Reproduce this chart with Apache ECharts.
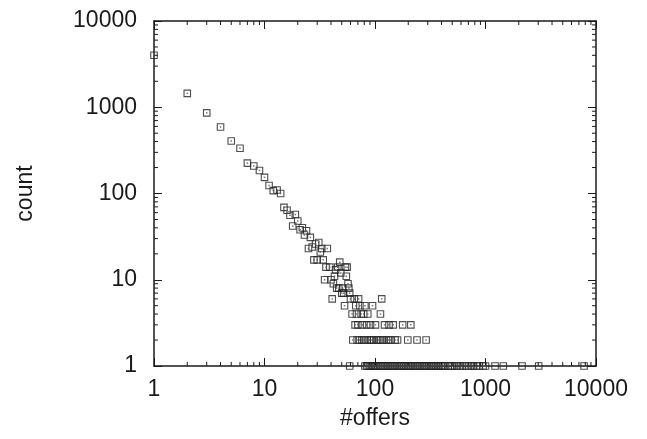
<!DOCTYPE html>
<html>
<head>
<meta charset="utf-8">
<script src="https://cdn.jsdelivr.net/npm/echarts@6/dist/echarts.min.js"></script>
<style>
html,body{margin:0;padding:0;background:#fff;}
#chart{width:647px;height:439px;}
</style>
</head>
<body>
<div id="chart"></div>
<script>
// ---- data ----
const offersHead = [1,2,3,4,5,6,7,8,9,10,11,12,13,14,15,16,17,18,19,20,21,22,23,24,25,26,27,28,29,30,31,32,33,34,35,36,37,39,40,41,42,43,44,45,46,47,48,49,50,51,52,53,54,55,56,57,58,59,60];
const countsHead = [4000,1450,860,590,406,335,225,208,185,154,124,108,110,100,69,64,56,42,57,48,38,40,33,37,23,31,24,17,26,17,27,21,23,17,10,14,23,14,10,6,9,11,13,8,14,8,16,12,7,8,7,5,14,11,14,9,8,7,6];

const offers6 = [65,71,115];
const offers5 = [67,73,81,95];
const offers4 = [62,68,75,79,86,112];
const offers3 = [66,70,77,84,91,101,122,134,146,178,211];
const offers2 = [63,69,72,76,80,85,89,93,97,104,108,113,118,127,133,139,152,160,198,240,290];
const offers1 = [59,81,84,87,90,93,96,99,102,106,110,114,118,122,127,132,137,142,147,153,159,165,171,177,184,191,198,205,213,221,229,238,247,256,266,276,286,297,308,320,332,344,357,370,384,398,413,428,460,480,500,525,555,590,620,660,700,740,780,830,880,950,1000,1220,1450,2140,3030,7800];

const axisTickLabels = ['1','10','100','1000','10000'];
const minorTickValues = [2,3,4,5,6,7,8,9,20,30,40,50,60,70,80,90,200,300,400,500,600,700,800,900,2000,3000,4000,5000,6000,7000,8000,9000];

// ---- build point list ----
const points = [];
offersHead.forEach((x,i)=>points.push([x,countsHead[i]]));
offers6.forEach(x=>points.push([x,6]));
offers5.forEach(x=>points.push([x,5]));
offers4.forEach(x=>points.push([x,4]));
offers3.forEach(x=>points.push([x,3]));
offers2.forEach(x=>points.push([x,2]));
offers1.forEach(x=>points.push([x,1]));

const FONT = "'Liberation Sans', Arial, Helvetica, sans-serif";
const INK = '#1a1a1a';

const chart = echarts.init(document.getElementById('chart'), null, {renderer:'canvas'});

function logAxisBase(extra){
  return Object.assign({
    type:'log', logBase:10, min:1, max:10000,
    axisLine:{show:true, lineStyle:{color:INK, width:1.5}},
    axisTick:{show:true, inside:true, length:8, lineStyle:{color:INK, width:1}},
    minorTick:{show:false},
    splitLine:{show:false},
  }, extra);
}
const fmt = v => { const r = Math.round(v); const s = String(r); return axisTickLabels.includes(s) ? s : ''; };

// minor tick marks drawn through the axes' own scales
const minorData = minorTickValues.map(v=>[v]);
function minorRender(params, api){
  const v = api.value(0);
  const pB = api.coord([v, 1]);
  const pT = api.coord([v, 10000]);
  const pL = api.coord([1, v]);
  const pR = api.coord([10000, v]);
  const L = 4;
  const st = {stroke:INK, lineWidth:1};
  return {type:'group', children:[
    {type:'line', shape:{x1:pB[0],y1:pB[1],x2:pB[0],y2:pB[1]-L}, style:st},
    {type:'line', shape:{x1:pT[0],y1:pT[1],x2:pT[0],y2:pT[1]+L}, style:st},
    {type:'line', shape:{x1:pL[0],y1:pL[1],x2:pL[0]+L,y2:pL[1]}, style:st},
    {type:'line', shape:{x1:pR[0],y1:pR[1],x2:pR[0]-L,y2:pR[1]}, style:st}
  ]};
}

chart.setOption({
  animation:false,
  backgroundColor:'#fff',
  grid:{left:154, top:21, right:51, bottom:73, containLabel:false},
  xAxis:[
    logAxisBase({position:'bottom', name:'#offers', nameLocation:'middle', nameGap:41,
      nameTextStyle:{fontFamily:FONT, fontSize:23, color:INK},
      axisLabel:{show:true, margin:12, fontFamily:FONT, fontSize:23, color:INK, formatter:fmt}}),
    logAxisBase({position:'top', axisLabel:{show:false}})
  ],
  yAxis:[
    logAxisBase({position:'left', name:'count', nameLocation:'middle', nameGap:117, nameRotate:90,
      nameTextStyle:{fontFamily:FONT, fontSize:23, color:INK},
      axisLabel:{show:true, margin:17, fontFamily:FONT, fontSize:23, color:INK, formatter:fmt}}),
    logAxisBase({position:'right', axisLabel:{show:false}})
  ],
  series:[
    {type:'custom', xAxisIndex:0, yAxisIndex:0, data:minorData, renderItem:minorRender, silent:true, clip:false, z:1},
    {type:'scatter', xAxisIndex:0, yAxisIndex:0, data:points, symbol:'rect', symbolSize:6.5,
      itemStyle:{color:'rgba(0,0,0,0)', borderColor:'#222', borderWidth:1.1}, z:3},
    {type:'scatter', xAxisIndex:0, yAxisIndex:0, data:points, symbol:'rect', symbolSize:1.5,
      itemStyle:{color:'#555'}, z:4}
  ]
});
</script>
</body>
</html>
